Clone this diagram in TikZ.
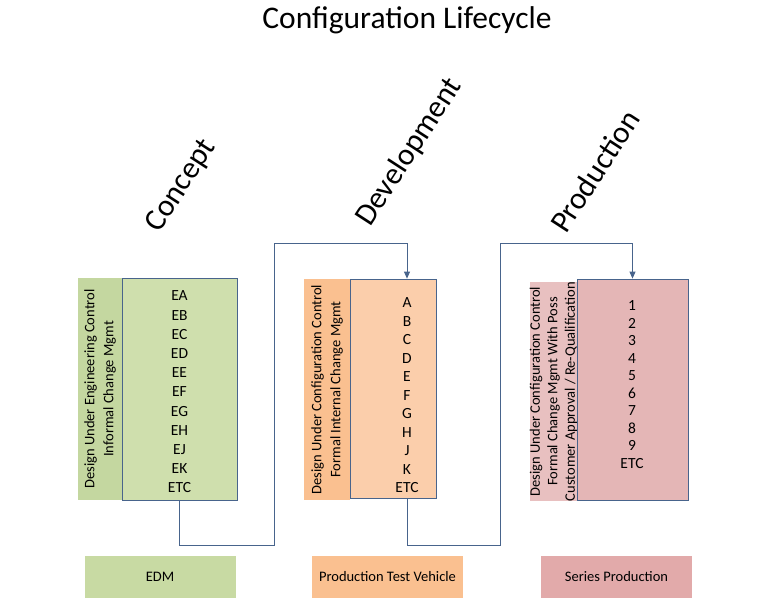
\documentclass[tikz,border=0pt]{standalone}
\usepackage{fontspec}
\setmainfont{Carlito}
\usetikzlibrary{arrows.meta}

\definecolor{linecol}{RGB}{72,100,140}
\definecolor{conceptdark}{RGB}{196,215,160}
\definecolor{conceptlight}{RGB}{207,223,173}
\definecolor{devdark}{RGB}{250,192,144}
\definecolor{devlight}{RGB}{251,206,171}
\definecolor{proddark}{RGB}{232,192,192}
\definecolor{prodlight}{RGB}{228,182,182}
\definecolor{edmcol}{RGB}{200,218,163}
\definecolor{ptvcol}{RGB}{250,192,144}
\definecolor{seriescol}{RGB}{226,170,170}

\begin{document}
\begin{tikzpicture}[x=1pt, y=-1pt,
    phase/.style={rotate=57, anchor=base west, inner sep=0pt, font=\fontsize{31}{31}\selectfont},
    strip/.style={rotate=90, align=center, inner sep=0pt, font=\fontsize{14.5}{19}\selectfont},
    listbox/.style={draw=linecol, line width=0.8pt, inner sep=0pt},
    listtext/.style={align=center, inner sep=0pt, font=\fontsize{15.5}{19.2}\selectfont},
    stagebox/.style={minimum width=151pt, minimum height=42pt, inner sep=0pt, font=\fontsize{14.5}{17}\selectfont},
    flow/.style={draw=linecol, line width=0.8pt, -{Triangle[length=7pt,width=6pt]}}]
    \useasboundingbox (0,0) rectangle (768,614);

    \node[font=\fontsize{31.5}{31.5}\selectfont, anchor=base] (title) at (407,28) {Configuration Lifecycle};

    % Phase names
    \node[phase] (concept) at (159,234) {Concept};
    \node[phase] (development) at (370,228) {Development};
    \node[phase] (production) at (566,235) {Production};

    % Concept column
    \node[strip, fill=conceptdark, minimum width=222pt, minimum height=44pt] (conceptnote) at (100,389)
        {Design Under Engineering Control\\Informal Change Mgmt};
    \node[listbox, fill=conceptlight, minimum width=115pt, minimum height=222pt] (conceptbox) at (179.5,389) {};
    \node[listtext] (conceptlist) at (179.5,392) {EA\\EB\\EC\\ED\\EE\\EF\\EG\\EH\\EJ\\EK\\ETC};

    % Development column
    \node[strip, fill=devdark, minimum width=221pt, minimum height=46pt] (devnote) at (327,389.5)
        {Design Under Configuration Control\\Formal Internal Change Mgmt};
    \node[listbox, fill=devlight, minimum width=86pt, minimum height=219pt] (devbox) at (393,388.5) {};
    \node[listtext, font=\fontsize{15.5}{18.5}\selectfont] (devlist) at (407,395.5) {A\\B\\C\\D\\E\\F\\G\\H\\J\\K\\ETC};

    % Production column
    \node[strip, fill=proddark, minimum width=217pt, minimum height=47pt, font=\fontsize{14.5}{17.5}\selectfont] (prodnote) at (553.5,391.5)
        {Design Under Configuration Control\\Formal Change Mgmt With Poss\\Customer Approval / Re-Qualification};
    \node[listbox, fill=prodlight, minimum width=111pt, minimum height=221pt] (prodbox) at (632.5,389.5) {};
    \node[listtext, font=\fontsize{15.5}{17.5}\selectfont] (prodlist) at (632,384.5) {1\\2\\3\\4\\5\\6\\7\\8\\9\\ETC};

    % Hand-over lines
    \coordinate (clow) at (274,545);
    \coordinate (chigh) at (274,243);
    \draw[flow] (conceptbox.south) |- (clow) -- (chigh) -| ([xshift=14pt]devbox.north);
    \coordinate (dlow) at (500,545);
    \coordinate (dhigh) at (500,243);
    \draw[flow] ([xshift=14pt]devbox.south) |- (dlow) -- (dhigh) -| (prodbox.north);

    % Stages
    \node[stagebox, fill=edmcol] (edm) at (160,577) {EDM};
    \node[stagebox, fill=ptvcol] (ptv) at (387.5,577) {Production Test Vehicle};
    \node[stagebox, fill=seriescol] (series) at (616.5,577) {Series Production};
\end{tikzpicture}
\end{document}
